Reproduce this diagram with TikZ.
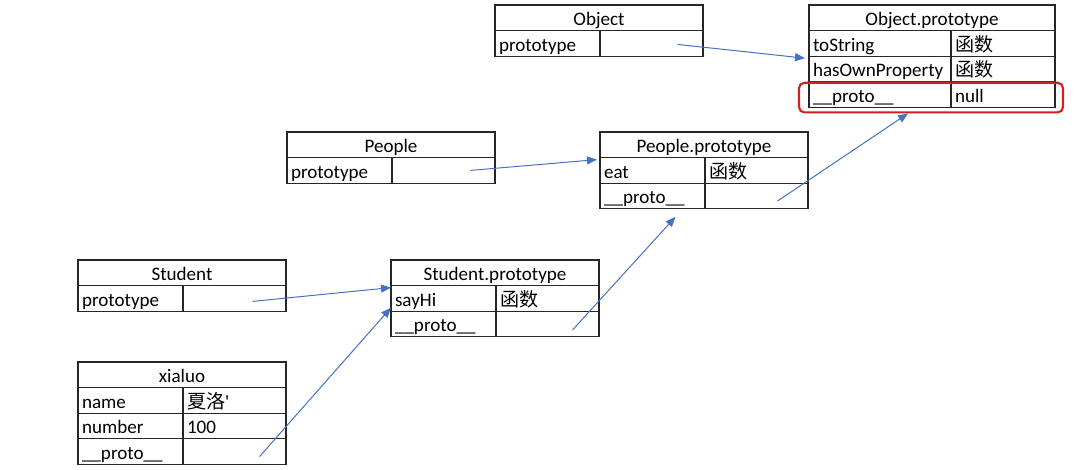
\documentclass[tikz,border=0pt]{standalone}
\usepackage{fontspec}
\setmainfont{Carlito}
\newfontfamily\cjk{Noto Sans CJK SC}
\usetikzlibrary{arrows.meta,calc}
\definecolor{linkblue}{HTML}{4472C4}
\definecolor{markred}{HTML}{D42020}
\tikzset{
  cell/.style={draw=black!85, line width=0.9pt, outer sep=0pt, inner xsep=3pt, inner ysep=0pt,
    minimum height=19.2pt, text height=14pt, text depth=2.3pt, anchor=north west,
    font=\fontsize{14.3}{17}\selectfont},
  head/.style={cell, minimum width=156pt},
  key/.style={cell, text width=72.75pt, align=left},
  val/.style={cell, text width=71.25pt, align=left},
  link/.style={-{Triangle[length=7.5pt,width=6pt]}, linkblue, line width=0.75pt},
  nullmark/.style={draw=markred, line width=1.6pt, rounded corners=4pt}
}
\begin{document}
\begin{tikzpicture}[x=0.75pt,y=-0.75pt]
\useasboundingbox (0,0) rectangle (1087,469);

% Constructors
\foreach \name/\title/\x/\y in {obj/Object/495/5, peo/People/287/132, stu/Student/78/260} {
  \node[head] (\name H) at (\x,\y) {\title};
  \node[key] (\name K) at (\name H.south west) {prototype};
  \node[val] (\name V) at (\name K.north east) {};
}

% Object.prototype
\node[head, minimum width=184.5pt] (opH) at (809,5) {Object.prototype};
\node[key, text width=100.5pt] (opK1) at (opH.south west) {toString};
\node[val, text width=72pt] (opV1) at (opK1.north east) {\cjk 函数};
\node[key, text width=100.5pt] (opK2) at (opK1.south west) {hasOwnProperty};
\node[val, text width=72pt] (opV2) at (opK2.north east) {\cjk 函数};
\node[key, text width=100.5pt] (opK3) at (opK2.south west) {\_\_proto\_\_};
\node[val, text width=72pt] (opV3) at (opK3.north east) {null};
\draw[nullmark] ($(opK3.north west)+(-10,1)$) rectangle ($(opV3.south east)+(8,5)$);

% People.prototype
\node[head] (ppH) at (600,132) {People.prototype};
\node[key] (ppK1) at (ppH.south west) {eat};
\node[val] (ppV1) at (ppK1.north east) {\cjk 函数};
\node[key] (ppK2) at (ppK1.south west) {\_\_proto\_\_};
\node[val] (ppV2) at (ppK2.north east) {};

% Student.prototype
\node[head] (spH) at (391,260) {Student.prototype};
\node[key] (spK1) at (spH.south west) {sayHi};
\node[val] (spV1) at (spK1.north east) {\cjk 函数};
\node[key] (spK2) at (spK1.south west) {\_\_proto\_\_};
\node[val] (spV2) at (spK2.north east) {};

% xialuo
\node[head] (xlH) at (78,362) {xialuo};
\node[key] (xlK1) at (xlH.south west) {name};
\node[val] (xlV1) at (xlK1.north east) {{\cjk 夏洛}\textquotesingle};
\node[key] (xlK2) at (xlK1.south west) {number};
\node[val] (xlV2) at (xlK2.north east) {100};
\node[key] (xlK3) at (xlK2.south west) {\_\_proto\_\_};
\node[val] (xlV3) at (xlK3.north east) {};

% Links
\coordinate (objFrom) at ($(objV.center)+(26,1)$);
\coordinate (peoFrom) at ($(peoV.center)+(27,0)$);
\coordinate (stuFrom) at ($(stuV.center)+(18,3)$);
\coordinate (xlFrom) at ($(xlV3.center)+(25,5)$);
\coordinate (spFrom) at ($(spV2.center)+(25,6)$);
\coordinate (ppFrom) at ($(ppV2.center)+(21,5)$);
\draw[link] (objFrom) -- ($(opK1.south west)+(-4,2)$);
\draw[link] (peoFrom) -- ($(ppK1.north west)+(-3,2)$);
\draw[link] (stuFrom) -- ($(spK1.north west)+(0,2)$);
\draw[link] (xlFrom) -- (spK1.190);
\draw[link] (spFrom) -- ($(ppK2.south)+(23,8)$);
\draw[link] (ppFrom) -- ($(opK3.south)+(28,6)$);

\end{tikzpicture}
\end{document}
